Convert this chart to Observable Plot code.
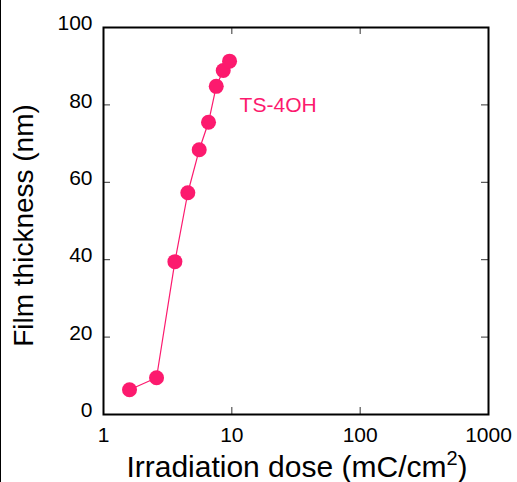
<!DOCTYPE html>
<html>
<head>
<meta charset="utf-8">
<script src="https://cdn.jsdelivr.net/npm/d3@7"></script>
<script src="https://cdn.jsdelivr.net/npm/@observablehq/plot@0.6"></script>
<style>
  html, body { margin: 0; padding: 0; background: #fff; }
  #wrap { position: relative; width: 517px; height: 482px; }
  #edge { position: absolute; left: 0; top: 0; width: 1px; height: 482px; background: #000; }
  svg text { font-family: "Liberation Sans", Arial, sans-serif; }
</style>
</head>
<body>
<div id="wrap"><div id="edge"></div></div>
<script>
// Data
const dose = [1.595, 2.59, 3.60, 4.54, 5.57, 6.58, 7.56, 8.57, 9.60];      // mC/cm^2
const thickness = [6.4, 9.5, 39.5, 57.3, 68.4, 75.5, 84.8, 88.9, 91.3];   // nm
const seriesName = "TS-4OH";
const xTicks = [1, 10, 100, 1000];
const xInnerTicks = [10, 100];
const yTicks = [0, 20, 40, 60, 80, 100];
const yInnerTicks = [20, 40, 60, 80];
const labelAt = [{x: 11.5, y: 80, text: seriesName}];

const points = dose.map((d, i) => ({dose: d, thickness: thickness[i]}));

const W = 517, H = 482;
const mL = 103, mR = 29, mT = 27, mB = 68;
const plotW = W - mL - mR, plotH = H - mT - mB;
const tick = 7;
const pink = "#fc1a6e";
const font = "Liberation Sans, Arial, sans-serif";

const chart = Plot.plot({
  width: W,
  height: H,
  marginLeft: mL,
  marginRight: mR,
  marginTop: mT,
  marginBottom: mB,
  style: {fontFamily: font, background: "transparent"},
  x: {type: "log", domain: [1, 1000]},
  y: {domain: [0, 100]},
  marks: [
    // inward ticks
    Plot.tickX(xInnerTicks, {x: d => d, insetTop: plotH - tick, stroke: "#333", strokeWidth: 1}),
    Plot.tickX(xInnerTicks, {x: d => d, insetBottom: plotH - tick, stroke: "#333", strokeWidth: 1}),
    Plot.tickY(yInnerTicks, {y: d => d, insetRight: plotW - tick, stroke: "#333", strokeWidth: 1}),
    Plot.tickY(yInnerTicks, {y: d => d, insetLeft: plotW - tick, stroke: "#333", strokeWidth: 1}),
    Plot.axisX({ticks: xTicks, tickSize: 0, tickPadding: 13, fontSize: 21, tickFormat: d => String(d), label: null, fill: "#000"}),
    Plot.axisY({ticks: yTicks, tickSize: 0, tickPadding: 11, dy: -4, fontSize: 21, tickFormat: d => String(d), label: null, fill: "#000"}),
    Plot.frame({stroke: "#000", strokeWidth: 2}),
    Plot.line(points, {x: "dose", y: "thickness", stroke: pink, strokeWidth: 1.2}),
    Plot.dot(points, {x: "dose", y: "thickness", r: 7.5, fill: pink, stroke: "none"}),
    Plot.text(labelAt, {x: "x", y: "y", text: "text", fill: pink, fontSize: 21, textAnchor: "start"})
  ]
});

const svg = d3.select(chart);
// Axis titles
const xt = svg.append("text")
  .attr("x", 297)
  .attr("y", 477)
  .attr("text-anchor", "middle")
  .attr("font-size", 30)
  .attr("fill", "#000")
  .style("font-family", font);
xt.append("tspan").text("Irradiation dose (mC/cm");
xt.append("tspan").attr("font-size", 20).attr("dy", "-12").text("2");
xt.append("tspan").attr("dy", "12").text(")");

svg.append("text")
  .attr("transform", `translate(33,${mT + plotH / 2 + 5}) rotate(-90)`)
  .attr("text-anchor", "middle")
  .attr("font-size", 28)
  .attr("fill", "#000")
  .style("font-family", font)
  .text("Film thickness (nm)");

document.getElementById("wrap").insertBefore(chart, document.getElementById("edge"));
</script>
</body>
</html>
